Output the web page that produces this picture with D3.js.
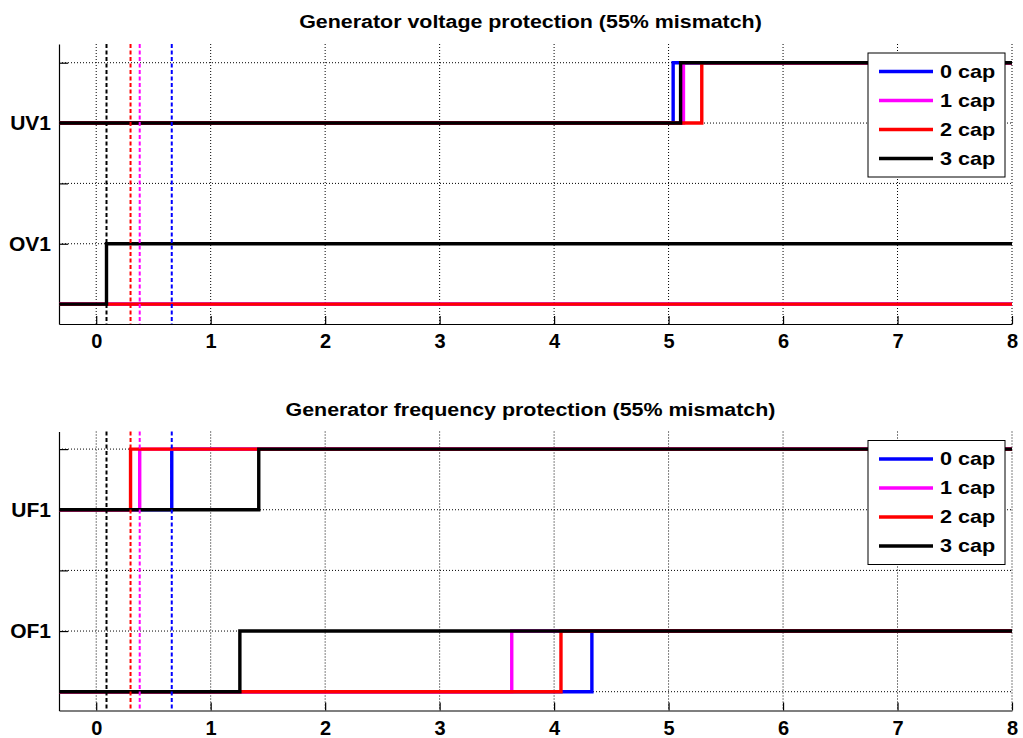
<!DOCTYPE html>
<html>
<head>
<meta charset="utf-8">
<script src="https://cdn.jsdelivr.net/npm/d3@7"></script>
<style>
  body { margin: 0; background: #fff; }
  svg text { font-family: Arial, "Liberation Sans", sans-serif; font-weight: bold; fill: #000; }
  .grid line { stroke: #000; stroke-width: 1; stroke-dasharray: 1,2; }
  .axis path, .axis line { stroke: #000; stroke-width: 1.2; }
</style>
</head>
<body>
<div class="chart__container"></div>
<script>
// data
const seriesNames = ['0 cap', '1 cap', '2 cap', '3 cap'];
const seriesColors = ['#0000ff', '#ff00ff', '#ff0000', '#000000'];
const xTicks = [0, 1, 2, 3, 4, 5, 6, 7, 8];
const yTicks = [0, 1, 2, 3, 4];

// switching time of the capacitors (dashed markers)
const capTime = [0.66, 0.38, 0.30, 0.09];

// voltage protection trip times (null = never trips)
const uvTrip = [5.04, 5.13, 5.29, 5.105];
const ovTrip = [null, null, null, 0.09];
const voltLabels = ['', 'OV1', '', 'UV1', ''];

// frequency protection trip times
const ufTrip = [0.66, 0.38, 0.30, 1.42];
const ofTrip = [4.33, 3.63, 4.06, 1.255];
const freqLabels = ['', 'OF1', '', 'UF1', ''];

//chart setup
const width = 1023;
const height = 738;
const xMin = -0.325;
const xMax = 8;

const svg = d3.select('.chart__container')
    .append('svg')
    .attr('width', width)
    .attr('height', height);

const xScale = d3.scaleLinear().domain([xMin, xMax]).range([59, 1012]);

// build a step trace: low level until trip, then high level
const stepPoints = (trip, low, high) => {
    if (trip === null) return [{ x: xMin, y: low }, { x: xMax, y: low }];
    return [{ x: xMin, y: low }, { x: trip, y: high }, { x: xMax, y: high }];
};

const drawPanel = (opts) => {
    const { top, bottom, yDomain, title, trips, labels } = opts;
    const yScale = d3.scaleLinear().domain(yDomain).range([bottom, top]);
    const g = svg.append('g');

    // title (source figure text is a bit wide, so stretch horizontally)
    const cx = (xScale.range()[0] + xScale.range()[1]) / 2;
    g.append('text')
        .attr('transform', `translate(${cx - 5},${top - 16}) scale(1.19,1)`)
        .attr('text-anchor', 'middle')
        .style('font-size', '18px')
        .text(title);

    // grid
    const grid = g.append('g').attr('class', 'grid');
    grid.selectAll('.vgrid')
        .data(xTicks)
        .enter()
        .append('line')
        .attr('x1', d => xScale(d)).attr('x2', d => xScale(d))
        .attr('y1', top).attr('y2', bottom);
    grid.selectAll('.hgrid')
        .data(yTicks)
        .enter()
        .append('line')
        .attr('x1', xScale.range()[0]).attr('x2', xScale.range()[1])
        .attr('y1', d => yScale(d)).attr('y2', d => yScale(d));

    // axes
    const xAxis = d3.axisBottom(xScale)
        .tickValues(xTicks)
        .tickSize(-8)
        .tickSizeOuter(0)
        .tickPadding(10)
        .tickFormat(d3.format('d'));
    const xAxisDraw = g.append('g')
        .attr('class', 'axis')
        .attr('transform', `translate(0,${bottom})`)
        .call(xAxis);
    xAxisDraw.selectAll('text').style('font-size', '20px');

    const yAxis = d3.axisLeft(yScale)
        .tickValues(yTicks)
        .tickSize(-9)
        .tickSizeOuter(0)
        .tickPadding(8)
        .tickFormat((d, i) => labels[i]);
    const yAxisDraw = g.append('g')
        .attr('class', 'axis')
        .attr('transform', `translate(${xScale.range()[0]},0)`)
        .call(yAxis);
    yAxisDraw.selectAll('text').style('font-size', '21px');
    g.selectAll('.axis .domain').attr('fill', 'none');

    // step traces
    const lineGenerator = d3.line()
        .x(d => xScale(d.x))
        .y(d => yScale(d.y))
        .curve(d3.curveStepAfter);

    const traces = g.append('g').attr('class', 'traces');
    trips.forEach(t => {
        traces.selectAll(null)
            .data(seriesNames)
            .enter()
            .append('path')
            .attr('d', (d, i) => lineGenerator(stepPoints(t.values[i], t.low, t.high)))
            .style('fill', 'none')
            .style('stroke', (d, i) => seriesColors[i])
            .style('stroke-width', 3.4);
    });

    // dashed capacitor markers
    g.append('g')
        .selectAll('line')
        .data(capTime)
        .enter()
        .append('line')
        .attr('x1', d => xScale(d)).attr('x2', d => xScale(d))
        .attr('y1', top).attr('y2', bottom)
        .style('stroke', (d, i) => seriesColors[i])
        .style('stroke-width', 2)
        .style('stroke-dasharray', '4,2.5');

    // legend
    const lx = 868, ly = top + 9, lw = 137, lh = 124;
    const legend = g.append('g').attr('class', 'legend');
    legend.append('rect')
        .attr('x', lx).attr('y', ly)
        .attr('width', lw).attr('height', lh)
        .style('fill', '#fff')
        .style('stroke', '#000')
        .style('stroke-width', 1);
    const items = legend.selectAll('.item')
        .data(seriesNames)
        .enter()
        .append('g')
        .attr('transform', (d, i) => `translate(${lx},${ly + 18.5 + i * 29})`);
    items.append('line')
        .attr('x1', 11).attr('x2', 65)
        .style('stroke', (d, i) => seriesColors[i])
        .style('stroke-width', 3.4);
    items.append('text')
        .attr('transform', 'translate(72,0) scale(1.2,1)')
        .attr('dy', '0.36em')
        .style('font-size', '18px')
        .text(d => d);
};

drawPanel({
    top: 44,
    bottom: 324,
    yDomain: [-0.33, 4.31],
    title: 'Generator voltage protection (55% mismatch)',
    trips: [
        { values: uvTrip, low: 3, high: 4 },
        { values: ovTrip, low: 0, high: 1 }
    ],
    labels: voltLabels
});

drawPanel({
    top: 431.5,
    bottom: 710.5,
    yDomain: [-0.31, 4.29],
    title: 'Generator frequency protection (55% mismatch)',
    trips: [
        { values: ufTrip, low: 3, high: 4 },
        { values: ofTrip, low: 0, high: 1 }
    ],
    labels: freqLabels
});
</script>
</body>
</html>
